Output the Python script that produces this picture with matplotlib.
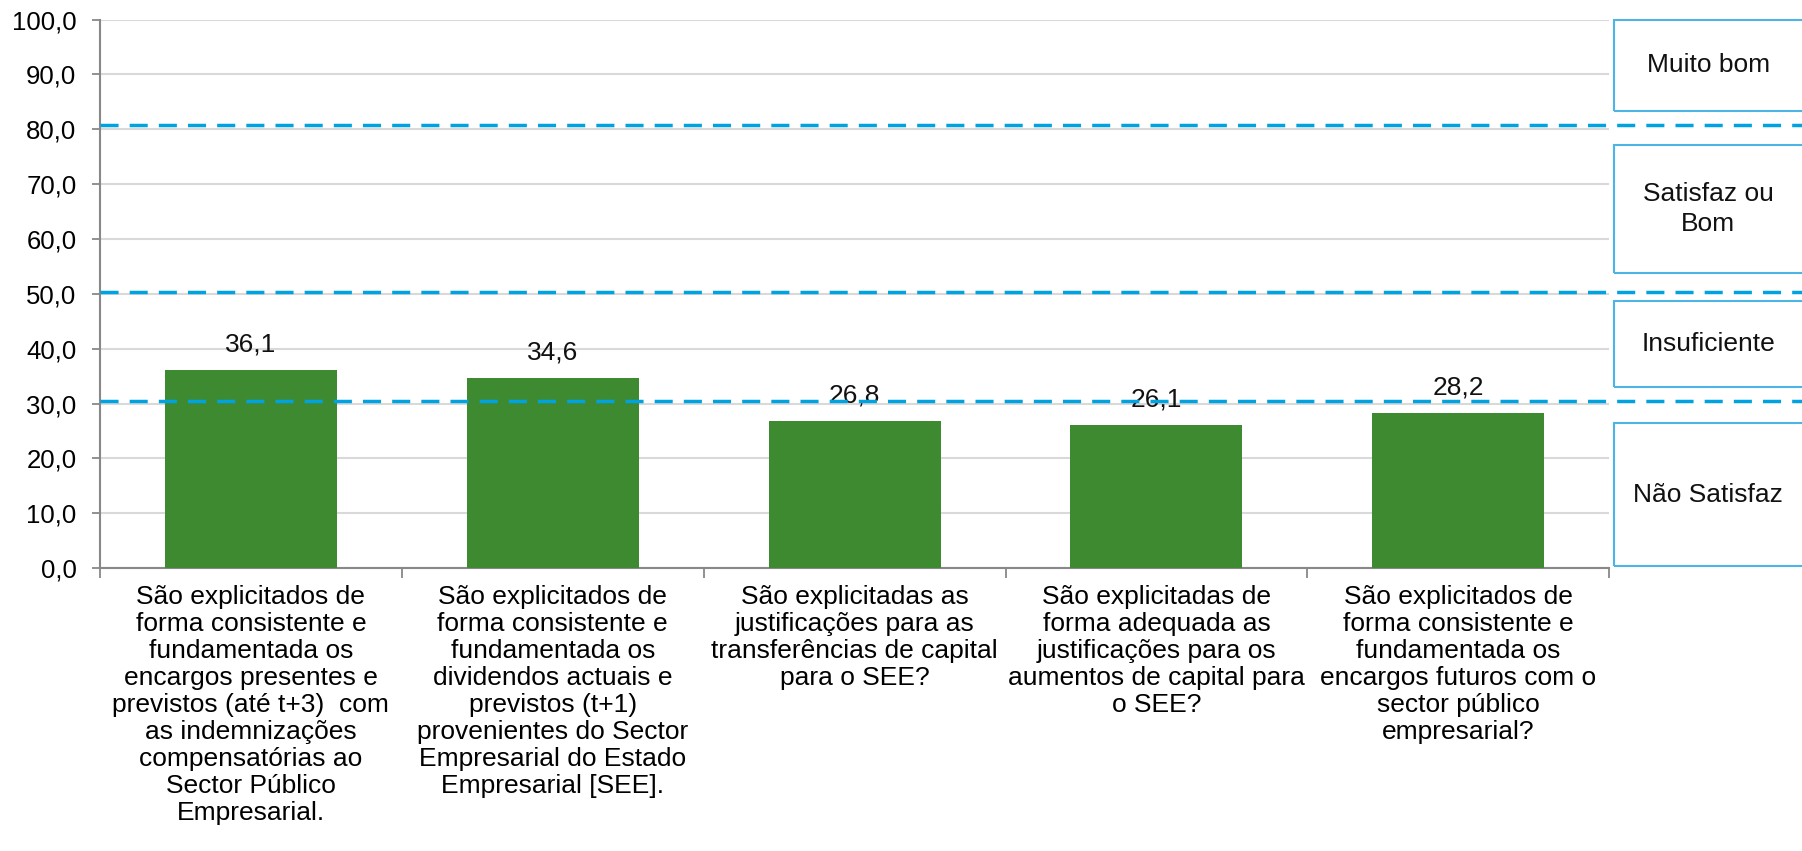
import matplotlib
matplotlib.use("Agg")
import matplotlib.pyplot as plt
from matplotlib.transforms import blended_transform_factory
from matplotlib.patches import Rectangle
from matplotlib.lines import Line2D

plt.rcParams['font.family'] = ['Liberation Sans', 'DejaVu Sans']

categories = [
    "São explicitados de\nforma consistente e\nfundamentada os\nencargos presentes e\nprevistos (até t+3)  com\nas indemnizações\ncompensatórias ao\nSector Público\nEmpresarial.",
    "São explicitados de\nforma consistente e\nfundamentada os\ndividendos actuais e\nprevistos (t+1)\nprovenientes do Sector\nEmpresarial do Estado\nEmpresarial [SEE].",
    "São explicitadas as\njustificações para as\ntransferências de capital\npara o SEE?",
    "São explicitadas de\nforma adequada as\njustificações para os\naumentos de capital para\no SEE?",
    "São explicitados de\nforma consistente e\nfundamentada os\nencargos futuros com o\nsector público\nempresarial?",
]
values = [36.1, 34.6, 26.8, 26.1, 28.2]
thresholds = [30.4, 50.4, 80.7]
band_labels = ["Muito bom", "Satisfaz ou\nBom", "Insuficiente", "Não Satisfaz"]
band_ranges = [(83.3, 100.0), (53.8, 77.1), (33.0, 48.6), (0.3, 26.5)]

fig = plt.figure(figsize=(18.02, 8.51), dpi=100)
ax = fig.add_axes([0.0555, 0.3325, 0.8375, 0.6445])

x = list(range(len(values)))
ax.bar(x, values, width=0.57, color="#3E8A31", zorder=3)
for xi, v in zip(x, values):
    ax.text(xi, v + 2.5, f"{v:.1f}".replace(".", ","), ha="center", va="bottom",
            fontsize=19, color="#111111", zorder=5)

ax.set_xlim(-0.5, len(values) - 0.5)
ax.set_ylim(0, 100)
ax.set_yticks(range(0, 101, 10))
ax.set_yticklabels([f"{t:.1f}".replace(".", ",") for t in range(0, 101, 10)], fontsize=18.5)
ax.yaxis.grid(True, color="#D9D9D9", linewidth=1.5, zorder=0)
ax.set_axisbelow(True)

ax.set_xticks([i - 0.5 for i in range(len(values) + 1)])
ax.set_xticklabels([])
ax.set_xticks(x, minor=True)
ax.set_xticklabels(categories, minor=True, fontsize=19, linespacing=1.16, va="top")
ax.tick_params(axis="x", which="minor", length=0, pad=12)
ax.tick_params(axis="x", which="major", length=7, color="#888888", width=1.3)
ax.tick_params(axis="y", length=6, color="#888888", width=1.3, pad=11)

for s in ["top", "right"]:
    ax.spines[s].set_visible(False)
for s in ["left", "bottom"]:
    ax.spines[s].set_color("#888888")
    ax.spines[s].set_linewidth(1.5)

tr = blended_transform_factory(fig.transFigure, ax.transData)
x0 = 0.0555
for t in thresholds:
    ln = Line2D([x0, 1.0], [t, t], transform=tr, color="#00A3E0", linewidth=2.5,
                linestyle=(0, (5.2, 3.2)), zorder=6, clip_on=False)
    fig.add_artist(ln)

bx0, bx1 = 0.8955, 1.01
for lab, (y0, y1) in zip(band_labels, band_ranges):
    r = Rectangle((bx0, y0), bx1 - bx0, y1 - y0, transform=tr, fill=False,
                  edgecolor="#4DB5E6", linewidth=1.5, clip_on=False)
    fig.add_artist(r)
    fig.text(0.948, (y0 + y1) / 2, lab, transform=tr, ha="center", va="center",
             fontsize=19, color="#111111", linespacing=1.3)

fig.savefig("out.png", dpi=100)
